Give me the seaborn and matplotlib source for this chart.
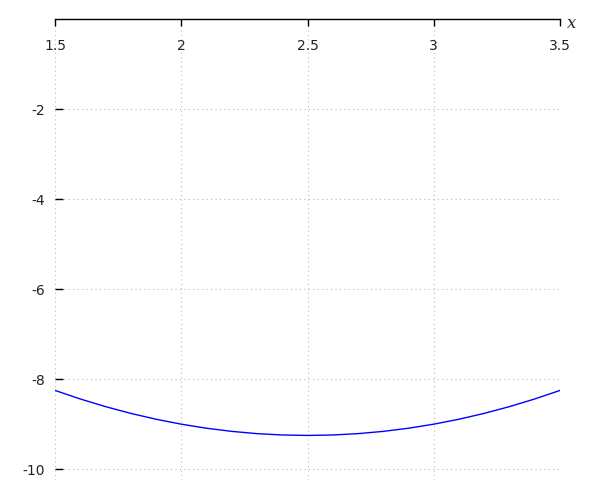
import matplotlib
matplotlib.use("agg")
import matplotlib.pyplot as plt
import seaborn as sns
import pandas as pd

# values
x_vals = [1.5, 1.6, 1.7, 1.8, 1.9, 2.0, 2.1, 2.2, 2.3, 2.4, 2.5,
          2.6, 2.7, 2.8, 2.9, 3.0, 3.1, 3.2, 3.3, 3.4, 3.5]
y_vals = [-8.25, -8.44, -8.61, -8.76, -8.89, -9.00, -9.09, -9.16, -9.21, -9.24, -9.25,
          -9.24, -9.21, -9.16, -9.09, -9.00, -8.89, -8.76, -8.61, -8.44, -8.25]
x_ticks = [1.5, 2, 2.5, 3, 3.5]
x_labels = ["1.5", "2", "2.5", "3", "3.5"]
y_ticks = [-2, -4, -6, -8, -10]
y_labels = ["-2", "-4", "-6", "-8", "-10"]

df = pd.DataFrame({"x": x_vals, "y": y_vals})

sns.set_style("white")
plt.rcParams['font.family'] = ['DejaVu Sans']

fig = plt.figure(figsize=(6, 5), dpi=100)
ax = fig.add_axes([55 / 600, 1 - 480 / 500, 505 / 600, 461 / 500])

sns.lineplot(data=df, x="x", y="y", color="blue", linewidth=1, ax=ax)

ax.set_xlim(1.5, 3.5)
ax.set_ylim(-10.24, 0)
ax.set_xticks(x_ticks)
ax.set_xticklabels(x_labels)
ax.set_yticks(y_ticks)
ax.set_yticklabels(y_labels)
ax.set_xlabel("")
ax.set_ylabel("")

ax.grid(True, color="#bbbbbb", linestyle=(0, (1, 3)), linewidth=0.8)

for side in ["left", "right", "bottom"]:
    ax.spines[side].set_visible(False)
ax.spines["top"].set_visible(True)
ax.spines["top"].set_color("black")
ax.spines["top"].set_linewidth(1)

ax.xaxis.tick_top()
ax.tick_params(axis="x", which="both", direction="in", length=5, width=1,
               color="black", labelsize=10, labelcolor="#222222", pad=-24.5)
ax.tick_params(axis="y", which="both", direction="in", length=6, width=1,
               color="black", labelsize=10, labelcolor="#222222", pad=7, left=True)

ax.text(1.024, 0.99, "x", transform=ax.transAxes, family="DejaVu Serif",
        style="italic", fontsize=12, ha="center", va="center")

fig.savefig("out.png", dpi=100)
